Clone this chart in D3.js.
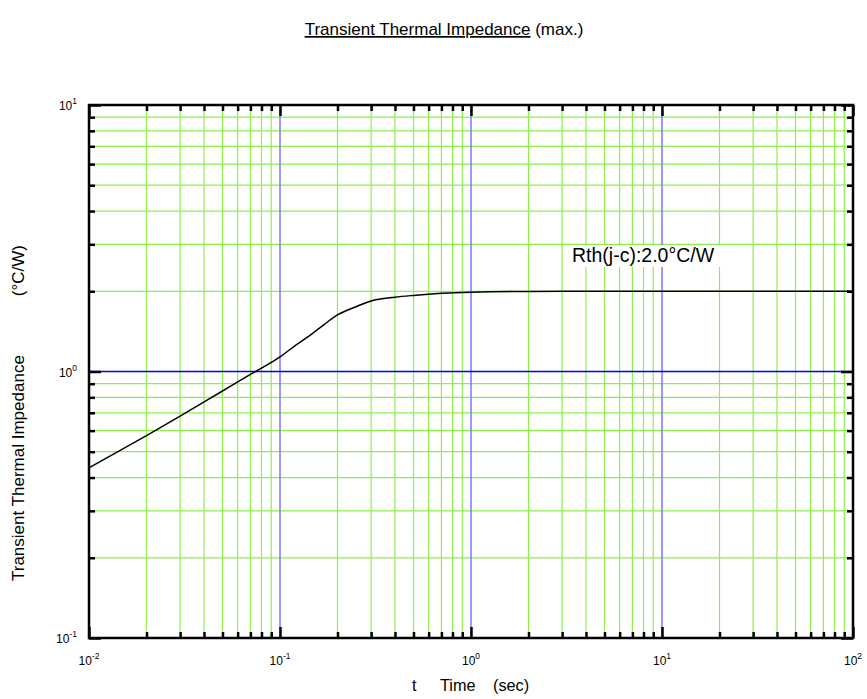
<!DOCTYPE html>
<html>
<head>
<meta charset="utf-8">
<script src="https://cdnjs.cloudflare.com/ajax/libs/d3/7.8.5/d3.min.js"></script>
<style>
  body { margin: 0; background: #fff; }
  text { font-family: "Liberation Sans", Arial, sans-serif; }
</style>
</head>
<body>
<script>
// data
var timeSec = [0.01, 0.02, 0.03, 0.05, 0.07, 0.1, 0.12, 0.15, 0.17, 0.2, 0.25, 0.3, 0.4, 0.5, 0.7, 1, 2, 5, 10, 100];
var zth = [0.435, 0.575, 0.68, 0.845, 0.975, 1.135, 1.25, 1.40, 1.50, 1.63, 1.75, 1.84, 1.90, 1.93, 1.965, 1.985, 1.998, 2.0, 2.0, 2.0];
var xDecades = [-2, -1, 0, 1, 2];
var yDecades = [-1, 0, 1];

var w = 867, h = 699;
// plot box (top is a reserved global in browsers, so use pTop etc.)
var pLeft = 89, pRight = 853, pTop = 105, pBottom = 638;

var svg = d3.select("body").append("svg")
  .attr("width", w)
  .attr("height", h);

var x = d3.scaleLog().domain([0.01, 100]).range([pLeft, pRight]);
var y = d3.scaleLog().domain([0.1, 10]).range([pBottom, pTop]);

// minor values 2..9 per decade
function minors(lo, hi) {
  var out = [];
  for (var e = lo; e < hi; e++) {
    for (var k = 2; k <= 9; k++) out.push(k * Math.pow(10, e));
  }
  return out;
}
var xMinor = minors(-2, 2);
var yMinor = minors(-1, 1);
var xMajorIn = [0.1, 1, 10];
var yMajorIn = [1];

// grid
svg.selectAll(".gx").data(xMinor).enter().append("line")
  .attr("x1", d => x(d)).attr("x2", d => x(d))
  .attr("y1", pTop).attr("y2", pBottom)
  .attr("stroke", "#8eef4c").attr("stroke-width", 1.2);
svg.selectAll(".gy").data(yMinor).enter().append("line")
  .attr("y1", d => y(d)).attr("y2", d => y(d))
  .attr("x1", pLeft).attr("x2", pRight)
  .attr("stroke", "#8eef4c").attr("stroke-width", 1.2);
svg.selectAll(".bx").data(xMajorIn).enter().append("line")
  .attr("x1", d => x(d)).attr("x2", d => x(d))
  .attr("y1", pTop).attr("y2", pBottom)
  .attr("stroke", "#7777ff").attr("stroke-width", 1.5);
svg.selectAll(".by").data(yMajorIn).enter().append("line")
  .attr("y1", d => y(d)).attr("y2", d => y(d))
  .attr("x1", pLeft).attr("x2", pRight)
  .attr("stroke", "#0000ee").attr("stroke-width", 1.3);

// white box behind the annotation
svg.append("rect")
  .attr("x", 570).attr("y", 245).attr("width", 152).attr("height", 22)
  .attr("fill", "#fff");

// curve
var line = d3.line()
  .x((d, i) => x(timeSec[i]))
  .y(d => y(d))
  .curve(d3.curveMonotoneX);
svg.append("path")
  .datum(zth)
  .attr("d", line)
  .attr("fill", "none")
  .attr("stroke", "#000")
  .attr("stroke-width", 1.5);

svg.append("text")
  .attr("x", 572).attr("y", 262)
  .attr("font-size", 19.5)
  .text("Rth(j-c):2.0°C/W");

// inward ticks on all four sides
function ticks(axis, vals, size, tr) {
  var g = svg.append("g").attr("transform", tr)
    .call(axis.tickValues(vals).tickSize(-size).tickFormat(""));
  g.select(".domain").remove();
  g.selectAll(".tick line").attr("stroke", "#000").attr("stroke-width", 2.5);
}
var xMajorAll = xDecades.map(e => Math.pow(10, e));
var yMajorAll = yDecades.map(e => Math.pow(10, e));
ticks(d3.axisBottom(x), xMinor, 6, "translate(0," + pBottom + ")");
ticks(d3.axisBottom(x), xMajorAll, 11, "translate(0," + pBottom + ")");
ticks(d3.axisTop(x), xMinor, 6, "translate(0," + pTop + ")");
ticks(d3.axisTop(x), xMajorAll, 11, "translate(0," + pTop + ")");
ticks(d3.axisLeft(y), yMinor, 6, "translate(" + pLeft + ",0)");
ticks(d3.axisLeft(y), yMajorAll, 12, "translate(" + pLeft + ",0)");
ticks(d3.axisRight(y), yMinor, 6, "translate(" + pRight + ",0)");
ticks(d3.axisRight(y), yMajorAll, 12, "translate(" + pRight + ",0)");

// frame
svg.append("rect")
  .attr("x", pLeft).attr("y", pTop)
  .attr("width", pRight - pLeft).attr("height", pBottom - pTop)
  .attr("fill", "none").attr("stroke", "#000").attr("stroke-width", 2.5);

// tick labels
var xl = svg.selectAll(".xl").data(xDecades).enter().append("text")
  .attr("x", d => x(Math.pow(10, d)))
  .attr("y", 665)
  .attr("text-anchor", "middle")
  .attr("font-size", 12);
xl.append("tspan").text("10");
xl.append("tspan").attr("dy", -6).attr("font-size", 8.5).text(d => d);

var yl = svg.selectAll(".yl").data(yDecades).enter().append("text")
  .attr("x", 77)
  .attr("y", d => y(Math.pow(10, d)) + 5)
  .attr("text-anchor", "end")
  .attr("font-size", 12);
yl.append("tspan").text("10");
yl.append("tspan").attr("dy", -6).attr("font-size", 8.5).text(d => d);

// titles
var title = svg.append("text")
  .attr("x", 444).attr("y", 35)
  .attr("text-anchor", "middle")
  .attr("font-size", 17);
title.append("tspan").attr("text-decoration", "underline").text("Transient Thermal Impedance");
title.append("tspan").text(" (max.)");

svg.append("text").attr("x", 412).attr("y", 691).attr("font-size", 16.3).text("t");
svg.append("text").attr("x", 440).attr("y", 691).attr("font-size", 16.3).text("Time");
svg.append("text").attr("x", 493).attr("y", 691).attr("font-size", 16.3).text("(sec)");

svg.append("text")
  .attr("transform", "translate(24,581) rotate(-90)")
  .attr("font-size", 17)
  .text("Transient Thermal Impedance");
svg.append("text")
  .attr("transform", "translate(24,245) rotate(-90)")
  .attr("text-anchor", "end")
  .attr("font-size", 17)
  .text("(°C/W)");
</script>
</body>
</html>
